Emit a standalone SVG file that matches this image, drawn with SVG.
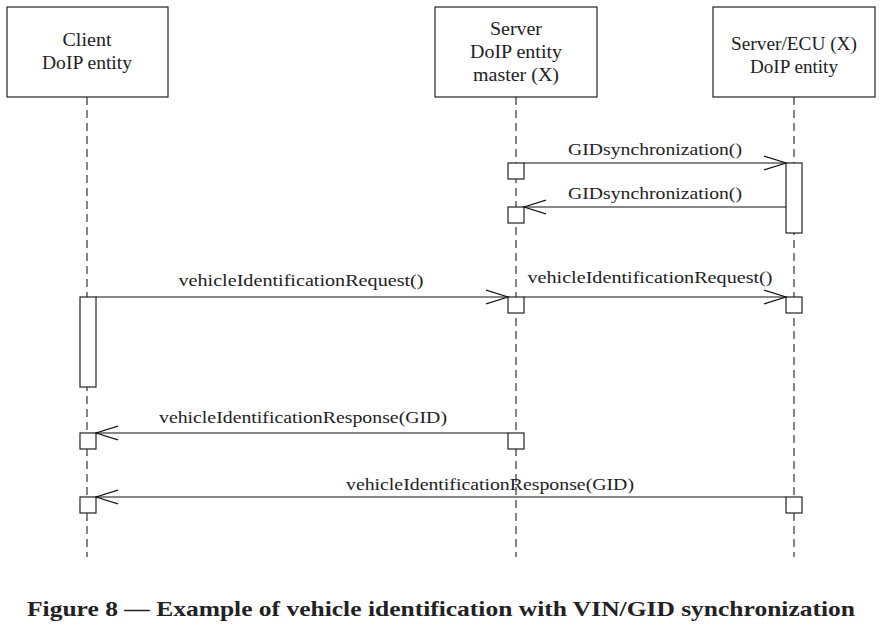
<svg xmlns="http://www.w3.org/2000/svg" width="891" height="629" viewBox="0 0 891 629">
<defs>
<style>
.box{fill:#fff;stroke:#222;stroke-width:1.2}
.life{stroke:#333;stroke-width:1.2;stroke-dasharray:8,5;fill:none}
.act{fill:#fff;stroke:#222;stroke-width:1.2}
.msg{stroke:#111;stroke-width:1.2;fill:none}
.t{font-family:"Liberation Serif","DejaVu Serif",serif;font-size:17px;fill:#222;text-anchor:middle}
.b{font-size:19px}
.cap{font-family:"Liberation Serif","DejaVu Serif",serif;font-size:22px;font-weight:bold;fill:#222;text-anchor:middle}
</style>
<marker id="arr" markerWidth="24" markerHeight="16" refX="22" refY="8" orient="auto" markerUnits="userSpaceOnUse">
<path d="M0,1 L22,8 L0,15" fill="none" stroke="#111" stroke-width="1.2"/>
</marker>
</defs>
<rect width="891" height="629" fill="#fff"/>
<g id="lifelines">
<line class="life" x1="87" y1="97" x2="87" y2="557"/>
<line class="life" x1="516" y1="97" x2="516" y2="557"/>
<line class="life" x1="794" y1="97" x2="794" y2="557"/>
</g>
<g id="client">
<rect class="box" x="7" y="7" width="161" height="90"/>
<text class="t b" x="87" y="46" textLength="49" lengthAdjust="spacingAndGlyphs">Client</text>
<text class="t b" x="87" y="69" textLength="90" lengthAdjust="spacingAndGlyphs">DoIP entity</text>
</g>
<g id="server">
<rect class="box" x="435" y="7" width="162" height="90"/>
<text class="t b" x="516" y="35" textLength="52" lengthAdjust="spacingAndGlyphs">Server</text>
<text class="t b" x="516" y="58" textLength="92" lengthAdjust="spacingAndGlyphs">DoIP entity</text>
<text class="t b" x="516" y="81" textLength="86" lengthAdjust="spacingAndGlyphs">master (X)</text>
</g>
<g id="ecu">
<rect class="box" x="713" y="7" width="162" height="90"/>
<text class="t b" x="794" y="50" textLength="126" lengthAdjust="spacingAndGlyphs">Server/ECU (X)</text>
<text class="t b" x="794" y="73" textLength="88" lengthAdjust="spacingAndGlyphs">DoIP entity</text>
</g>
<g id="activations">
<rect class="act" x="786" y="163" width="16" height="70"/>
<rect class="act" x="508" y="163" width="16" height="16"/>
<rect class="act" x="508" y="207" width="16" height="16"/>
<rect class="act" x="80" y="297" width="16" height="90"/>
<rect class="act" x="508" y="297" width="16" height="16"/>
<rect class="act" x="786" y="297" width="16" height="16"/>
<rect class="act" x="80" y="433" width="16" height="16"/>
<rect class="act" x="508" y="433" width="16" height="16"/>
<rect class="act" x="80" y="497" width="16" height="16"/>
<rect class="act" x="786" y="497" width="16" height="16"/>
</g>
<g id="connectors">
<line class="msg" x1="524" y1="163" x2="786" y2="163" marker-end="url(#arr)"/>
<line class="msg" x1="786" y1="207" x2="524" y2="207" marker-end="url(#arr)"/>
<line class="msg" x1="96" y1="297" x2="508" y2="297" marker-end="url(#arr)"/>
<line class="msg" x1="524" y1="297" x2="786" y2="297" marker-end="url(#arr)"/>
<line class="msg" x1="508" y1="433" x2="96" y2="433" marker-end="url(#arr)"/>
<line class="msg" x1="786" y1="497" x2="96" y2="497" marker-end="url(#arr)"/>
</g>
<g id="labels">
<text class="t" x="655" y="155" textLength="174" lengthAdjust="spacingAndGlyphs">GIDsynchronization()</text>
<text class="t" x="655" y="199" textLength="174" lengthAdjust="spacingAndGlyphs">GIDsynchronization()</text>
<text class="t" x="301" y="286" textLength="245" lengthAdjust="spacingAndGlyphs">vehicleIdentificationRequest()</text>
<text class="t" x="650" y="283" textLength="245" lengthAdjust="spacingAndGlyphs">vehicleIdentificationRequest()</text>
<text class="t" x="303" y="423" textLength="288" lengthAdjust="spacingAndGlyphs">vehicleIdentificationResponse(GID)</text>
<text class="t" x="490" y="490" textLength="288" lengthAdjust="spacingAndGlyphs">vehicleIdentificationResponse(GID)</text>
</g>
<text class="cap" x="441" y="616" textLength="828" lengthAdjust="spacingAndGlyphs">Figure 8 — Example of vehicle identification with VIN/GID synchronization</text>
</svg>
